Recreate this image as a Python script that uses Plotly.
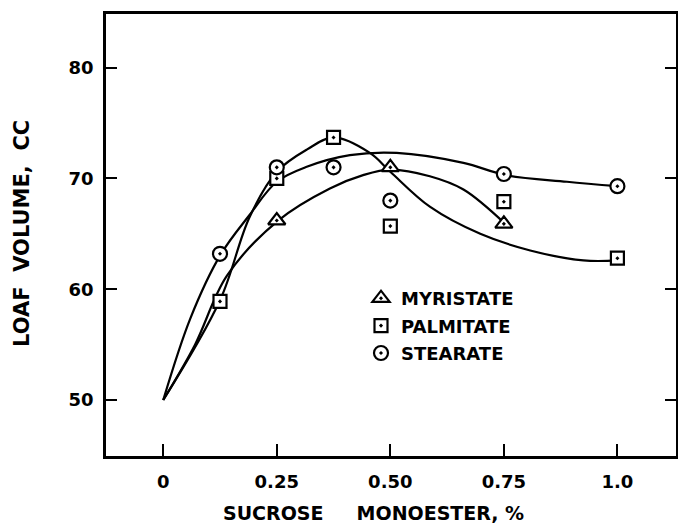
import plotly.graph_objects as go

# ---- data ----
x_ticks = [0, 0.25, 0.5, 0.75, 1.0]
x_ticklabels = ["0", "0.25", "0.50", "0.75", "1.0"]
y_ticks = [50, 60, 70, 80]

myr_x = [0.25, 0.5, 0.75]
myr_y = [66.2, 71.0, 65.9]
pal_x = [0.125, 0.25, 0.375, 0.5, 0.75, 1.0]
pal_y = [58.9, 70.0, 73.7, 65.7, 67.9, 62.8]
ste_x = [0.125, 0.25, 0.375, 0.5, 0.75, 1.0]
ste_y = [63.2, 71.0, 71.0, 68.0, 70.4, 69.3]

# fitted (hand-drawn) curves, knots
myr_cx = [0, 0.07, 0.14, 0.253, 0.367, 0.44, 0.5, 0.587, 0.661, 0.753]
myr_cy = [50, 55.0, 61.2, 66.2, 69.1, 70.3, 70.8, 70.2, 69.0, 65.9]
pal_cx = [0, 0.125, 0.19, 0.25, 0.316, 0.375, 0.455, 0.5, 0.587, 0.698, 0.808, 0.925, 1.0]
pal_cy = [50, 59.0, 66.5, 70.6, 72.6, 73.7, 72.3, 70.6, 67.45, 65.0, 63.5, 62.6, 62.6]
ste_cx = [0, 0.06, 0.126, 0.19, 0.25, 0.316, 0.411, 0.514, 0.661, 0.754, 0.889, 1.0]
ste_cy = [50, 57.4, 63.1, 66.7, 69.7, 71.05, 72.1, 72.3, 71.4, 70.3, 69.7, 69.3]

FONT = "DejaVu Sans"
LW = 2.2
L, R, T, B = 106, 2, 14, 68
PW, PH = 678 - L - R, 524 - T - B

fig = go.Figure()

for cx, cy in [(ste_cx, ste_cy), (pal_cx, pal_cy), (myr_cx, myr_cy)]:
    fig.add_trace(go.Scatter(x=cx, y=cy, mode="lines",
                             line=dict(color="black", width=LW, shape="spline", smoothing=1.0),
                             showlegend=False, hoverinfo="skip"))

series = [
    ("MYRISTATE", myr_x, myr_y, "triangle-up-dot", 15),
    ("PALMITATE", pal_x, pal_y, "square-dot", 13),
    ("STEARATE", ste_x, ste_y, "circle-dot", 14),
]
for i, (name, xs, ys, sym, sz) in enumerate(series):
    fig.add_trace(go.Scatter(
        x=xs, y=ys, mode="markers", name="<b>%s</b>" % name,
        legendgroup=name, legendrank=i,
        marker=dict(symbol=sym, size=sz, color="white",
                    line=dict(color="black", width=2.2)),
    ))

fig.update_layout(
    width=678, height=524,
    margin=dict(l=L, r=R, t=T, b=B, autoexpand=False),
    paper_bgcolor="white", plot_bgcolor="white",
    font=dict(family=FONT, color="black", size=17),
    legend=dict(x=(361 - L) / PW, y=(456 - 280) / PH, xanchor="left", yanchor="top",
                bgcolor="rgba(0,0,0,0)", itemwidth=30, tracegroupgap=1,
                font=dict(family=FONT, size=18, color="black")),
    xaxis=dict(range=[-0.126, 1.129], tickvals=x_ticks, ticktext=x_ticklabels,
               ticks="inside", ticklen=12, tickwidth=2, tickcolor="black",
               showline=True, linecolor="black", linewidth=2.5, mirror=True,
               showgrid=False, zeroline=False, ticklabelstandoff=8,
               tickfont=dict(family=FONT, size=18, weight="bold")),
    yaxis=dict(range=[44.95, 84.84], tickvals=y_ticks,
               ticks="inside", ticklen=11, tickwidth=2, tickcolor="black",
               showline=True, linecolor="black", linewidth=2.5, mirror="ticks",
               showgrid=False, zeroline=False, ticklabelstandoff=6,
               tickfont=dict(family=FONT, size=18, weight="bold")),
    annotations=[
        dict(text="<b>SUCROSE\u00a0\u00a0\u00a0\u00a0\u00a0MONOESTER,\u00a0%</b>",
             xref="paper", yref="paper",
             x=(221 - L) / PW, y=-(513 - 456) / PH, xanchor="left", yanchor="middle",
             showarrow=False, font=dict(family=FONT, size=19)),
        dict(text="<b>LOAF\u00a0\u00a0VOLUME,\u00a0\u00a0CC</b>", xref="paper", yref="paper",
             x=-(L - 22) / PW, y=(456 - 234) / PH, xanchor="center", yanchor="middle",
             textangle=-90, showarrow=False, font=dict(family=FONT, size=21)),
    ],
)

fig.write_html("out.html", config={"displayModeBar": False},
               post_script="document.body.style.margin='0';")
